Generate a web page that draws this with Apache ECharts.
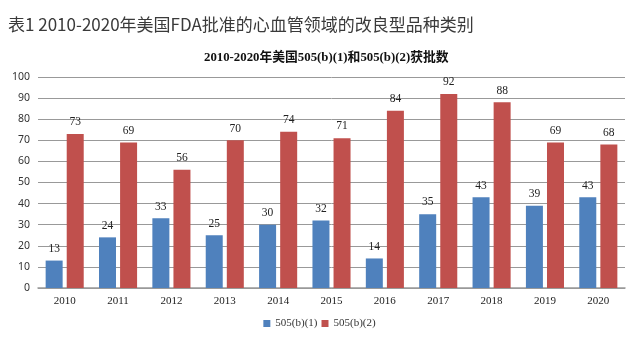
<!DOCTYPE html>
<html><head><meta charset="utf-8">
<script src="https://cdn.jsdelivr.net/npm/echarts@6/dist/echarts.min.js"></script>
<style>html,body{margin:0;padding:0;background:#fff}#c{width:639px;height:346px}</style>
</head><body><div id="c"></div>
<script>
const categories = ['2010','2011','2012','2013','2014','2015','2016','2017','2018','2019','2020'];
const seriesB1 = [13,24,33,25,30,32,14,35,43,39,43];
const seriesB2 = [73,69,56,70,74,71,84,92,88,69,68];
const seriesNames = ['505(b)(1)','505(b)(2)'];
const yTicks = {min:0,max:100,interval:10};
const serif = '"Liberation Serif","Times New Roman","Noto Sans CJK SC",serif';
const chart = echarts.init(document.getElementById('c'));
const lbl = {show:true,position:'top',fontFamily:serif,fontSize:11.5,color:'#222',distance:6};
chart.setOption({
  animation:false,
  title:[
    {text:'表1 2010-2020年美国FDA批准的心血管领域的改良型品种类别',left:3,top:11,textStyle:{fontSize:17,fontWeight:'normal',color:'#3a3a3a',fontFamily:'"Noto Sans CJK SC","Noto Sans",sans-serif'}},
    {text:'2010-2020年美国505(b)(1)和505(b)(2)获批数',left:199,top:46,textStyle:{fontSize:12.8,fontWeight:'bold',color:'#111',fontFamily:serif}}
  ],
  grid:{left:38,right:14,top:77,bottom:58},
  legend:{bottom:12,left:'center',itemWidth:7,itemHeight:7,itemGap:4,icon:'rect',textStyle:{fontFamily:serif,fontSize:11,color:'#333'},data:seriesNames},
  xAxis:{type:'category',data:categories,axisTick:{show:false},axisLine:{lineStyle:{color:'#999',width:1.5}},axisLabel:{fontFamily:serif,fontSize:11,color:'#222',margin:8}},
  yAxis:{type:'value',min:yTicks.min,max:yTicks.max,interval:yTicks.interval,axisLine:{show:false},axisTick:{show:false},splitLine:{lineStyle:{color:'#999'}},axisLabel:{fontFamily:'"Noto Sans","DejaVu Sans",sans-serif',fontSize:10.5,color:'#333',margin:8}},
  series:[
    {name:seriesNames[0],type:'bar',data:seriesB1,barWidth:17,barGap:'24%',itemStyle:{color:'#4F81BD'},label:lbl},
    {name:seriesNames[1],type:'bar',data:seriesB2,barWidth:17,barGap:'24%',itemStyle:{color:'#C0504D'},label:lbl}
  ]
});
</script></body></html>
